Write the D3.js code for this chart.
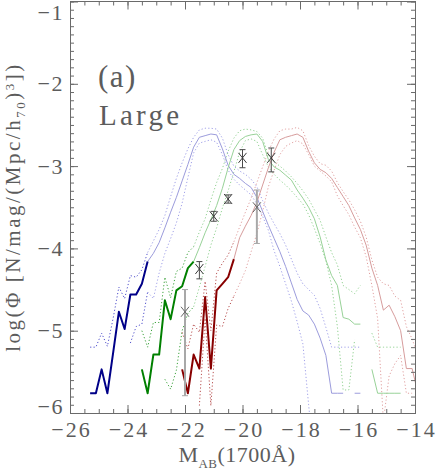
<!DOCTYPE html>
<html>
<head>
<meta charset="utf-8">
<script src="https://cdn.jsdelivr.net/npm/d3@7"></script>
<style>
  body { margin: 0; background: #fff; }
  text { font-family: "Liberation Serif", "Times New Roman", serif; fill: #5c5c5c; }
</style>
</head>
<body>
<script>
// luminosity functions, [M_AB, log phi], one bin every 0.2 mag, null = empty bin
const blueLF = [[-25.3,-5.76],[-25.1,-5.76],[-24.9,-5.47],[-24.7,-5.76],[-24.5,-5.27],[-24.3,-4.77],[-24.1,-4.98],[-23.9,-4.56],[-23.7,-4.56],[-23.5,-4.43],[-23.3,-4.16],[-23.1,-4.06],[-22.9,-3.93],[-22.7,-3.75],[-22.5,-3.56],[-22.3,-3.38],[-22.1,-3.18],[-21.9,-2.98],[-21.7,-2.77],[-21.5,-2.65],[-21.3,-2.63],[-21.1,-2.61],[-20.9,-2.62],[-20.7,-2.79],[-20.5,-2.99],[-20.3,-3.10],[-20.1,-3.15],[-19.9,-3.21],[-19.7,-3.26],[-19.5,-3.38],[-19.3,-3.55],[-19.1,-3.72],[-18.9,-3.88],[-18.7,-4.04],[-18.5,-4.22],[-18.3,-4.42],[-18.1,-4.62],[-17.9,-4.76],[-17.7,-4.81],[-17.5,-4.92],[-17.3,-5.09],[-17.1,-5.30],[-16.9,-5.76],[-16.7,-5.76],[-16.5,-5.76],[-16.3,null],[-16.1,-5.76],[-15.9,-5.76]];
const blueUp = [[-25.3,-5.20],[-25.1,-5.20],[-24.9,-5.03],[-24.7,-5.19],[-24.5,-4.85],[-24.3,-4.47],[-24.1,-4.61],[-23.9,-4.33],[-23.7,-4.35],[-23.5,-4.26],[-23.3,-4.05],[-23.1,-3.91],[-22.9,-3.77],[-22.7,-3.60],[-22.5,-3.37],[-22.3,-3.15],[-22.1,-2.96],[-21.9,-2.79],[-21.7,-2.65],[-21.5,-2.56],[-21.3,-2.54],[-21.1,-2.54],[-20.9,-2.55],[-20.7,-2.66],[-20.5,-2.86],[-20.3,-3.00],[-20.1,-3.06],[-19.9,-3.10],[-19.7,-3.16],[-19.5,-3.25],[-19.3,-3.42],[-19.1,-3.57],[-18.9,-3.70],[-18.7,-3.82],[-18.5,-3.96],[-18.3,-4.13],[-18.1,-4.30],[-17.9,-4.43],[-17.7,-4.50],[-17.5,-4.57],[-17.3,-4.73],[-17.1,-4.96],[-16.9,-5.20],[-16.7,-5.20],[-16.5,-5.20],[-16.3,-5.20],[-16.1,-5.20],[-15.9,-5.20]];
const blueLo = [[-23.9,-5.15],[-23.7,-4.95],[-23.5,-4.92],[-23.3,-4.53],[-23.1,-4.61],[-22.9,-4.30],[-22.7,-4.06],[-22.5,-3.88],[-22.3,-3.69],[-22.1,-3.45],[-21.9,-3.14],[-21.7,-2.84],[-21.5,-2.72],[-21.3,-2.70],[-21.1,-2.68],[-20.9,-2.71],[-20.7,-2.86],[-20.5,-3.05],[-20.3,-3.16],[-20.1,-3.23],[-19.9,-3.29],[-19.7,-3.35],[-19.5,-3.46],[-19.3,-3.61],[-19.1,-3.78],[-18.9,-4.03],[-18.7,-4.22],[-18.5,-4.43],[-18.3,-4.64],[-18.1,-4.89],[-17.9,-5.16],[-17.7,-5.90],[-17.5,-6.60]];

const greenLF = [[-23.5,-5.47],[-23.3,-5.76],[-23.1,-5.29],[-22.9,-5.29],[-22.7,-4.63],[-22.5,-4.86],[-22.3,-4.51],[-22.1,-4.46],[-21.9,-4.24],[-21.7,-4.16],[-21.5,-3.99],[-21.3,-3.81],[-21.1,-3.65],[-20.9,-3.48],[-20.7,-3.27],[-20.5,-3.02],[-20.3,-2.80],[-20.1,-2.69],[-19.9,-2.64],[-19.7,-2.62],[-19.5,-2.61],[-19.3,-2.70],[-19.1,-2.92],[-18.9,-3.01],[-18.7,-3.05],[-18.5,-3.11],[-18.3,-3.17],[-18.1,-3.29],[-17.9,-3.39],[-17.7,-3.50],[-17.5,-3.64],[-17.3,-3.86],[-17.1,-4.14],[-16.9,-4.33],[-16.7,-4.45],[-16.5,-4.84],[-16.3,-4.86],[-16.1,-4.92],[-15.9,-4.92],[-15.7,null],[-15.5,-5.47],[-15.3,-5.76],[-15.1,-5.76],[-14.9,-5.76],[-14.7,-5.76],[-14.5,-5.76]];
const greenUp = [[-23.5,-5.00],[-23.3,-5.20],[-23.1,-4.90],[-22.9,-4.90],[-22.7,-4.35],[-22.5,-4.60],[-22.3,-4.28],[-22.1,-4.24],[-21.9,-4.05],[-21.7,-3.98],[-21.5,-3.80],[-21.3,-3.64],[-21.1,-3.41],[-20.9,-3.20],[-20.7,-3.03],[-20.5,-2.82],[-20.3,-2.66],[-20.1,-2.57],[-19.9,-2.55],[-19.7,-2.56],[-19.5,-2.58],[-19.3,-2.66],[-19.1,-2.87],[-18.9,-2.95],[-18.7,-3.00],[-18.5,-3.06],[-18.3,-3.13],[-18.1,-3.21],[-17.9,-3.30],[-17.7,-3.40],[-17.5,-3.53],[-17.3,-3.66],[-17.1,-3.86],[-16.9,-4.05],[-16.7,-4.20],[-16.5,-4.45],[-16.3,-4.50],[-16.1,-4.55],[-15.9,-4.45],[-15.7,null],[-15.5,-5.03],[-15.3,-5.20],[-15.1,-5.20],[-14.9,-5.20],[-14.7,-5.20],[-14.5,-5.20]];
const greenLo = [[-22.7,-5.59],[-22.5,-5.71],[-22.3,-5.48],[-22.1,-5.00],[-21.9,-4.79],[-21.7,-4.71],[-21.5,-4.47],[-21.3,-4.22],[-21.1,-3.96],[-20.9,-3.75],[-20.7,-3.51],[-20.5,-3.30],[-20.3,-3.07],[-20.1,-2.83],[-19.9,-2.69],[-19.7,-2.67],[-19.5,-2.70],[-19.3,-2.86],[-19.1,-3.01],[-18.9,-3.10],[-18.7,-3.17],[-18.5,-3.23],[-18.3,-3.30],[-18.1,-3.38],[-17.9,-3.46],[-17.7,-3.59],[-17.5,-3.76],[-17.3,-3.94],[-17.1,-4.15],[-16.9,-4.45],[-16.7,-4.95],[-16.5,-5.72],[-16.3,-5.72],[-16.1,-5.11]];

const redLF = [[-22.1,-5.47],[-21.9,-5.76],[-21.7,-5.29],[-21.5,-5.46],[-21.3,-4.59],[-21.1,-5.46],[-20.9,-4.51],[-20.7,-4.43],[-20.5,-4.35],[-20.3,-4.13],[-20.1,-3.87],[-19.9,-3.73],[-19.7,-3.60],[-19.5,-3.44],[-19.3,-3.23],[-19.1,-3.02],[-18.9,-2.83],[-18.7,-2.68],[-18.5,-2.65],[-18.3,-2.63],[-18.1,-2.61],[-17.9,-2.65],[-17.7,-2.82],[-17.5,-2.96],[-17.3,-3.04],[-17.1,-3.08],[-16.9,-3.15],[-16.7,-3.26],[-16.5,-3.37],[-16.3,-3.48],[-16.1,-3.63],[-15.9,-3.77],[-15.7,-3.96],[-15.5,-4.24],[-15.3,-4.45],[-15.1,-4.75],[-14.9,-4.69],[-14.7,-4.83],[-14.5,-5.00],[-14.3,-5.46],[-14.1,-5.46],[-13.9,-5.76]];
const redUp = [[-22.1,-5.02],[-21.9,-5.22],[-21.7,-4.92],[-21.5,-5.02],[-21.3,-4.40],[-21.1,-5.00],[-20.9,-4.30],[-20.7,-4.18],[-20.5,-4.08],[-20.3,-3.92],[-20.1,-3.74],[-19.9,-3.56],[-19.7,-3.39],[-19.5,-3.20],[-19.3,-3.01],[-19.1,-2.82],[-18.9,-2.67],[-18.7,-2.57],[-18.5,-2.55],[-18.3,-2.55],[-18.1,-2.53],[-17.9,-2.57],[-17.7,-2.75],[-17.5,-2.88],[-17.3,-2.97],[-17.1,-2.99],[-16.9,-3.06],[-16.7,-3.20],[-16.5,-3.31],[-16.3,-3.41],[-16.1,-3.53],[-15.9,-3.67],[-15.7,-3.86],[-15.5,-4.14],[-15.3,-4.35],[-15.1,-4.43],[-14.9,-4.45],[-14.7,-4.58],[-14.5,-4.63],[-14.3,-4.95],[-14.1,-5.10],[-13.9,-5.30]];
const redLo = [[-21.5,-5.91],[-21.3,-4.85],[-21.1,-5.91],[-20.9,-4.93],[-20.7,-4.95],[-20.5,-4.73],[-20.3,-4.58],[-20.1,-4.43],[-19.9,-4.27],[-19.7,-4.04],[-19.5,-3.82],[-19.3,-3.55],[-19.1,-3.25],[-18.9,-3.05],[-18.7,-2.86],[-18.5,-2.76],[-18.3,-2.72],[-18.1,-2.69],[-17.9,-2.73],[-17.7,-2.86],[-17.5,-3.00],[-17.3,-3.06],[-17.1,-3.12],[-16.9,-3.19],[-16.7,-3.36],[-16.5,-3.48],[-16.3,-3.59],[-16.1,-3.74],[-15.9,-3.87],[-15.7,-4.10],[-15.5,-4.45],[-15.3,-4.85],[-15.1,-6.10],[-14.9,-5.55],[-14.7,-5.40],[-14.5,-5.30],[-14.3,-5.76],[-14.1,-5.76]];

// where each curve switches from the bold to the faint style
const blueCut = -23.3, greenCut = -21.7, redCut = -20.3;

// comparison points with error bars
const ptMag  = [-22.0, -21.5, -21.0, -20.5, -20.0, -19.5, -19.0];
const ptPhi  = [-4.77, -4.25, -3.61, -3.40, -2.90, -3.50, -2.90];
const ptLow  = [-5.79, -4.37, -3.67, -3.45, -3.02, -3.94, -3.07];
const ptHigh = [-4.50, -4.16, -3.55, -3.35, -2.80, -3.29, -2.78];
const ptGrey = [true, false, false, false, false, true, false];

const W = 436, H = 472;
const svg = d3.select('body').append('svg').attr('width', W).attr('height', H);

const x = d3.scaleLinear().domain([-26, -14]).range([70, 415]);
const y = d3.scaleLinear().domain([-6, -1]).range([413, 1.5]);

svg.append('clipPath').attr('id', 'plot')
   .append('rect')
   .attr('x', x(-26)).attr('y', y(-1))
   .attr('width', x(-14) - x(-26)).attr('height', y(-6) - y(-1));

const plot = svg.append('g').attr('clip-path', 'url(#plot)');

const line = d3.line()
               .defined(d => d[1] !== null)
               .x(d => x(d[0]))
               .y(d => y(d[1]));

function drawCurve(data, cut, boldColor, faintColor, boldW, faintW, dash){
   const bold = data.filter(d => d[0] <= cut + 1e-6);
   const faint = data.filter(d => d[0] >= cut - 1e-6);
   [[faint, faintColor, faintW], [bold, boldColor, boldW]].forEach(([pts, c, w]) => {
      plot.append('path')
          .attr('d', line(pts))
          .attr('fill', 'none')
          .attr('stroke', c)
          .attr('stroke-width', w)
          .attr('stroke-dasharray', dash)
          .attr('stroke-linejoin', 'round');
   });
}

const dots = '1.2 2.2';
drawCurve(blueUp,  blueCut,  '#5050cc', '#a0a0e8', 1, 1, dots);
drawCurve(blueLo,  blueCut,  '#5050cc', '#a0a0e8', 1, 1, dots);
drawCurve(greenUp, greenCut, '#3ca33c', '#92d292', 1, 1, dots);
drawCurve(greenLo, greenCut, '#3ca33c', '#92d292', 1, 1, dots);
drawCurve(redUp,   redCut,   '#b85050', '#e0a0a0', 1, 1, dots);
drawCurve(redLo,   redCut,   '#b85050', '#e0a0a0', 1, 1, dots);

drawCurve(blueLF,  blueCut,  '#000088', '#9c9cdc', 2, 1, null);
drawCurve(greenLF, greenCut, '#008000', '#98d298', 2, 1, null);
drawCurve(redLF,   redCut,   '#880000', '#d69c9c', 2, 1, null);

// error bars and X markers
const pts = ptMag.map((m, i) => ({m, phi: ptPhi[i], lo: ptLow[i], hi: ptHigh[i], grey: ptGrey[i]}));
const pg = svg.append('g');
pts.forEach(p => {
   const cx = x(p.m), cy = y(p.phi);
   const c = p.grey ? '#a8a8a8' : '#4a4a4a';
   const w = p.grey ? 2 : 1;
   pg.append('line').attr('x1', cx).attr('x2', cx).attr('y1', y(p.lo)).attr('y2', y(p.hi))
     .attr('stroke', c).attr('stroke-width', w);
   [p.lo, p.hi].forEach(v => {
      pg.append('line').attr('x1', cx - 3).attr('x2', cx + 3).attr('y1', y(v)).attr('y2', y(v))
        .attr('stroke', c).attr('stroke-width', 1);
   });
   pg.append('path')
     .attr('d', `M${cx - 4},${cy - 5}L${cx + 4},${cy + 5}M${cx - 4},${cy + 5}L${cx + 4},${cy - 5}`)
     .attr('stroke', p.grey ? '#666' : '#3a3a3a').attr('stroke-width', 1).attr('fill', 'none');
});

// axes: ticks on all four sides, pointing inwards
const axisColor = '#6a6a6a';
const majorX = x.ticks(6), minorX = x.ticks(24);
const majorY = y.ticks(5), minorY = y.ticks(50);
const fmt = d3.format('d');

function addAxis(axis, tx, ty, labels){
   const g = svg.append('g')
                .attr('transform', `translate(${tx},${ty})`)
                .call(axis)
                .attr('color', axisColor)
                .attr('font-size', 22)
                .attr('font-family', '"Liberation Serif", serif');
   g.select('.domain').remove();
   if(!labels) g.selectAll('text').remove();
   return g;
}

addAxis(d3.axisBottom(x).tickValues(minorX).tickSize(-4).tickFormat(''), 0, y(-6), false);
addAxis(d3.axisTop(x).tickValues(minorX).tickSize(-4).tickFormat(''), 0, y(-1), false);
addAxis(d3.axisTop(x).tickValues(majorX).tickSize(-8).tickFormat(''), 0, y(-1), false);
addAxis(d3.axisLeft(y).tickValues(minorY).tickSize(-4).tickFormat(''), x(-26), 0, false);
addAxis(d3.axisRight(y).tickValues(minorY).tickSize(-4).tickFormat(''), x(-14), 0, false);
addAxis(d3.axisRight(y).tickValues(majorY).tickSize(-8).tickFormat(''), x(-14), 0, false);

const xAxis = addAxis(d3.axisBottom(x).tickValues(majorX).tickSize(-8).tickPadding(8).tickFormat(fmt), 0, y(-6), true);
xAxis.selectAll('text').attr('letter-spacing', 2).attr('dx', 1);

const yAxis = addAxis(d3.axisLeft(y).tickValues(majorY).tickSize(-8).tickPadding(6).tickFormat(fmt), x(-26), 0, true);
yAxis.selectAll('.tick text')
     .attr('letter-spacing', 1.5)
     .attr('y', d => Math.min(Math.max(y(d), 12), 406.5) - y(d));

svg.append('rect')
   .attr('x', x(-26) + 0.5).attr('y', y(-1))
   .attr('width', x(-14) - x(-26)).attr('height', y(-6) - y(-1) + 0.5)
   .attr('fill', 'none').attr('stroke', axisColor).attr('stroke-width', 1);

// labels
svg.append('text').attr('x', 98).attr('y', 87).attr('font-size', 31)
   .attr('letter-spacing', 1.5).text('(a)');
svg.append('text').attr('x', 99).attr('y', 125).attr('font-size', 29)
   .attr('textLength', 80).attr('lengthAdjust', 'spacing').text('Large');

const xl = svg.append('text').attr('x', 237).attr('y', 462).attr('font-size', 22).attr('text-anchor', 'middle')
              .attr('letter-spacing', 0.5);
xl.append('tspan').text('M');
xl.append('tspan').attr('font-size', 13).attr('dy', 6).text('AB');
xl.append('tspan').attr('dy', -6).text('(1700Å)');

const yl = svg.append('text')
              .attr('transform', `translate(20,${(y(-1) + y(-6)) / 2 + 1}) rotate(-90)`)
              .attr('font-size', 21).attr('text-anchor', 'middle')
              .attr('textLength', 287).attr('lengthAdjust', 'spacing');
yl.append('tspan').text('log(Φ [N/mag/(Mpc/h');
yl.append('tspan').attr('font-size', 13).attr('dy', 5).text('70');
yl.append('tspan').attr('dy', -5).text(')');
yl.append('tspan').attr('font-size', 13).attr('dy', -6).text('3');
yl.append('tspan').attr('dy', 6).text('])');
</script>
</body>
</html>
